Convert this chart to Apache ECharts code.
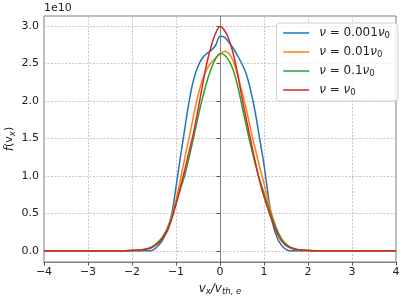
<!DOCTYPE html>
<html><head><meta charset="utf-8">
<script src="https://cdn.jsdelivr.net/npm/echarts@6/dist/echarts.min.js"></script>
<style>html,body{margin:0;padding:0;background:#fff}#c{width:407px;height:299px}</style>
</head><body><div id="c"></div>
<script>
// velocity grid v_x / v_th,e
var vx = [-4, -2.2, -2.0, -1.8, -1.7, -1.6, -1.5, -1.4, -1.3, -1.2, -1.1, -1.0, -0.9, -0.8, -0.7, -0.6, -0.5, -0.4, -0.3, -0.2, -0.1, 0.0, 0.1, 0.2, 0.3, 0.4, 0.5, 0.6, 0.7, 0.8, 0.9, 1.0, 1.1, 1.2, 1.3, 1.4, 1.5, 1.6, 1.7, 1.8, 2.0, 2.2, 4];
// f(v_x) in units of 1e10
var f_0001 = [0, 0, 0, 0, 0, 0.00, 0.02, 0.07, 0.15, 0.28, 0.48, 0.85, 1.25, 1.63, 2.00, 2.28, 2.46, 2.57, 2.63, 2.67, 2.74, 2.86, 2.85, 2.78, 2.70, 2.60, 2.49, 2.35, 2.13, 1.85, 1.50, 1.15, 0.72, 0.36, 0.17, 0.07, 0.02, 0.00, 0, 0, 0, 0, 0];
var f_001 = [0, 0, 0.005, 0.01, 0.02, 0.04, 0.07, 0.12, 0.19, 0.30, 0.46, 0.68, 0.95, 1.24, 1.51, 1.80, 2.07, 2.28, 2.42, 2.51, 2.57, 2.62, 2.66, 2.63, 2.53, 2.34, 2.12, 1.88, 1.61, 1.36, 1.12, 0.90, 0.65, 0.44, 0.27, 0.15, 0.08, 0.04, 0.02, 0.01, 0.005, 0, 0];
var f_01 = [0, 0, 0.005, 0.01, 0.02, 0.04, 0.07, 0.12, 0.19, 0.29, 0.44, 0.63, 0.82, 1.01, 1.25, 1.51, 1.78, 2.03, 2.25, 2.43, 2.56, 2.63, 2.61, 2.54, 2.41, 2.20, 1.93, 1.66, 1.40, 1.16, 0.95, 0.77, 0.58, 0.42, 0.27, 0.16, 0.09, 0.05, 0.03, 0.015, 0.005, 0, 0];
var f_1 = [0, 0, 0.005, 0.01, 0.02, 0.03, 0.06, 0.10, 0.17, 0.26, 0.42, 0.62, 0.85, 1.08, 1.33, 1.58, 1.88, 2.20, 2.50, 2.73, 2.90, 2.99, 2.94, 2.82, 2.63, 2.36, 2.04, 1.75, 1.47, 1.19, 0.93, 0.72, 0.54, 0.37, 0.23, 0.13, 0.07, 0.04, 0.02, 0.01, 0.005, 0, 0];
var yTicks = [0, 0.5, 1.0, 1.5, 2.0, 2.5, 3.0];
var names = ['a', 'b', 'c', 'd'];
var legendLabels = {
  a: '{i|ν} = 0.001{i|ν}{s|0}',
  b: '{i|ν} = 0.01{i|ν}{s|0}',
  c: '{i|ν} = 0.1{i|ν}{s|0}',
  d: '{i|ν} = {i|ν}{s|0}'
};
var colors = ['#1f77b4', '#ff7f0e', '#2ca02c', '#d62728'];
var seriesVals = [f_0001, f_001, f_01, f_1];

var FONT = 'DejaVu Sans';
function pairs(ys){ return vx.map(function(x,i){ return [x, ys[i]]; }); }
function minus(v){ return v < 0 ? '\u2212' + Math.abs(v) : String(v); }

var chart = echarts.init(document.getElementById('c'), null, {renderer:'canvas'});
chart.setOption({
  animation:false,
  textStyle:{fontFamily:FONT},
  grid:{left:44, top:16, width:352, height:246, show:true, borderColor:'#7f7f7f', borderWidth:1,
        backgroundColor:'transparent', containLabel:false, outerBoundsMode:'none'},
  xAxis:{
    type:'value', min:-4, max:4, interval:1,
    axisLine:{onZero:false, lineStyle:{color:'#7f7f7f', width:1}},
    axisTick:{show:true, length:3.5, lineStyle:{color:'#555'}},
    axisLabel:{color:'#222', fontSize:11, fontFamily:FONT, margin:5, formatter:minus},
    splitLine:{show:true, lineStyle:{color:'#b8b8b8', type:[2,1.5], width:0.8}},
    name:'{i|v}{s|x}{i|/v}{s|th, e}',
    nameLocation:'middle', nameGap:19, nameMoveOverlap:false,
    nameTextStyle:{color:'#222', fontSize:11, fontFamily:FONT,
      rich:{i:{fontStyle:'italic', fontSize:12, fontFamily:FONT, color:'#222'},
            s:{fontStyle:'italic', fontSize:8.5, fontFamily:FONT, color:'#222', padding:[6,0,0,0]}}}
  },
  yAxis:{
    type:'value', min:-0.149, max:3.13,
    axisLine:{show:true, lineStyle:{color:'#7f7f7f', width:1}},
    axisTick:{show:true, length:3.5, lineStyle:{color:'#555'}, customValues:yTicks},
    axisLabel:{color:'#222', fontSize:11, fontFamily:FONT, margin:5, customValues:yTicks,
      formatter:function(v){ return v.toFixed(1); }},
    splitLine:{show:true, lineStyle:{color:'#b8b8b8', type:[2,1.5], width:0.8}},
    name:'{i|f}(v{s|x})', nameLocation:'middle', nameGap:27, nameRotate:90, nameMoveOverlap:false,
    nameTextStyle:{color:'#222', fontSize:11, fontFamily:FONT,
      rich:{i:{fontStyle:'italic', fontSize:12, fontFamily:FONT, color:'#222'},
            s:{fontStyle:'italic', fontSize:8.5, fontFamily:FONT, color:'#222', padding:[6,0,0,0]}}}
  },
  legend:{
    orient:'vertical', right:9, top:23,
    padding:[4,8,4,6], itemGap:6, itemWidth:26, itemHeight:10,
    backgroundColor:'rgba(255,255,255,0.8)', borderColor:'#d0d0d0', borderWidth:1, borderRadius:3,
    data:names,
    itemStyle:{opacity:0},
    lineStyle:{width:1.5},
    formatter:function(n){ return legendLabels[n]; },
    textStyle:{color:'#222', fontSize:12, fontFamily:FONT, padding:[0,0,0,5],
      rich:{i:{fontStyle:'italic', fontSize:12, fontFamily:FONT, color:'#222'},
            s:{fontSize:8.5, fontFamily:FONT, color:'#222', padding:[5,0,0,0]}}}
  },
  graphic:[{type:'text', left:44, top:3, style:{text:'1e10', font:'11px "DejaVu Sans"', fill:'#222'}}],
  series: names.map(function(n,k){
    return {name:n, type:'line', data:pairs(seriesVals[k]), symbol:'none', smooth:0.3,
      lineStyle:{color:colors[k], width:1.5}, itemStyle:{color:colors[k]}, z:2+k};
  })
});
</script></body></html>
